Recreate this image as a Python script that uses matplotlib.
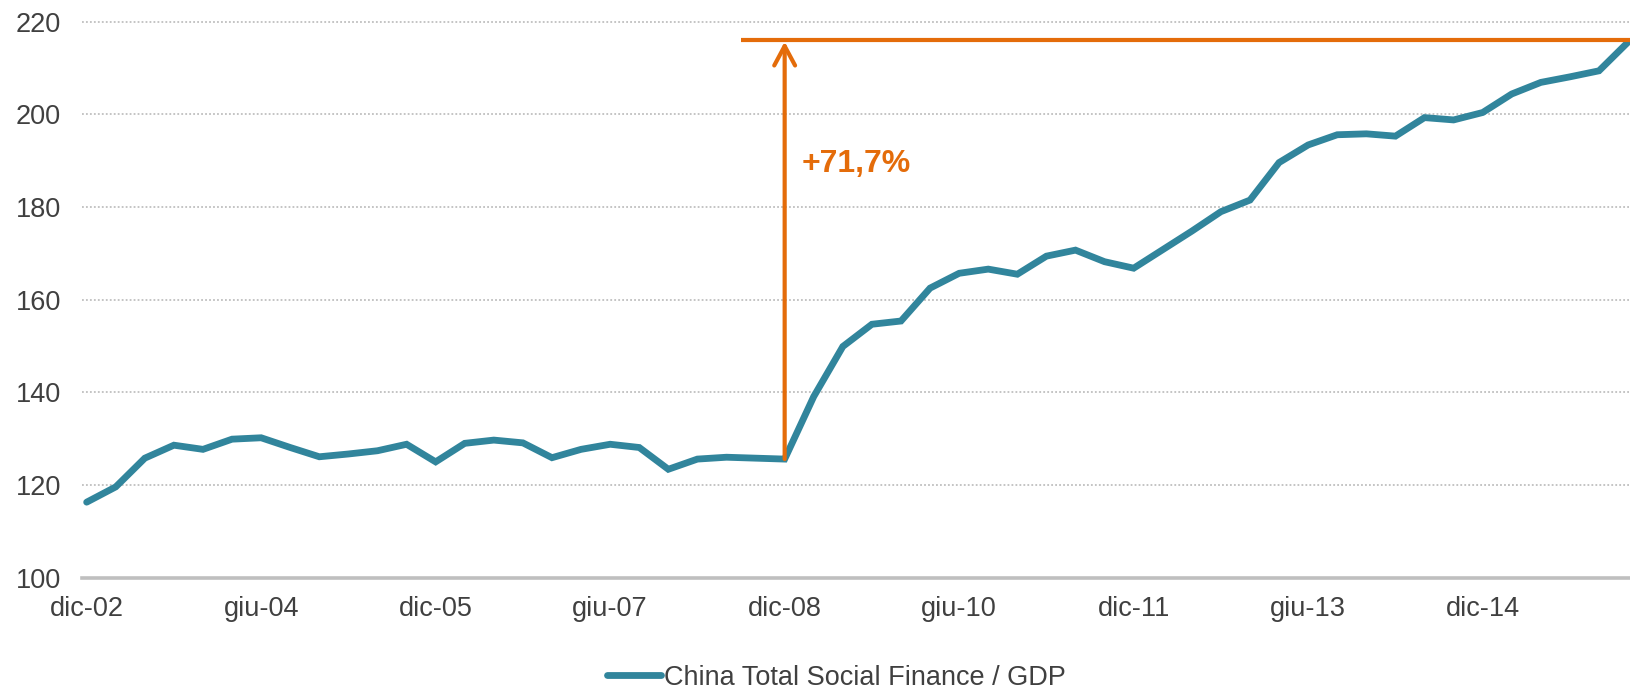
import matplotlib
matplotlib.use("Agg")
import matplotlib.pyplot as plt

plt.rcParams['font.family'] = ['Liberation Sans', 'DejaVu Sans']

# Quarterly data, dic-02 .. mar-16
values = [116.3, 119.6, 125.8, 128.6, 127.7, 129.9, 130.2, 128.1, 126.1, 126.7,
          127.4, 128.8, 125.0, 129.0, 129.7, 129.1, 125.9, 127.7, 128.8, 128.1,
          123.4, 125.6, 126.0, 125.8, 125.6, 139.1, 149.9, 154.7, 155.4, 162.5,
          165.7, 166.6, 165.5, 169.4, 170.7, 168.2, 166.8, 170.8, 174.8, 179.0,
          181.5, 189.6, 193.4, 195.6, 195.8, 195.3, 199.3, 198.8, 200.4, 204.4,
          206.9, 208.1, 209.4, 215.6]
tick_positions = [0, 6, 12, 18, 24, 30, 36, 42, 48]
tick_labels = ['dic-02', 'giu-04', 'dic-05', 'giu-07', 'dic-08',
               'giu-10', 'dic-11', 'giu-13', 'dic-14']
y_ticks = [100, 120, 140, 160, 180, 200, 220]
series_name = 'China Total Social Finance / GDP'
base_index = 24
peak_level = 216.0
annot_start = 22.5
annot_text = '+71,7%'

TEAL = '#31859C'
ORANGE = '#E46C0A'
TXT = '#404040'
FS = 19.5

W, H = 1631, 688
fig = plt.figure(figsize=(W / 100, H / 100), dpi=100)
ax = fig.add_axes([82 / W, 1 - 577.7 / H, (W - 82) / W, (577.7 - 21.7) / H])

x = list(range(len(values)))
ax.plot(x, values, color=TEAL, lw=4.9, solid_joinstyle='miter', solid_capstyle='round',
        clip_on=False, zorder=3, label=series_name)

ax.set_xlim(-0.16, 53.1)
ax.set_ylim(100, 220)
ax.set_yticks(y_ticks)
ax.set_xticks(tick_positions)
ax.set_xticklabels(tick_labels)
ax.tick_params(axis='both', length=0, labelsize=FS, labelcolor=TXT)
ax.tick_params(axis='y', pad=15)
ax.tick_params(axis='x', pad=13)

for v in y_ticks[1:]:
    ax.axhline(v, color='#BFBFBF', lw=1.3, ls=(0, (1, 1.2)), zorder=1, clip_on=False)
for s in ['left', 'right', 'top']:
    ax.spines[s].set_visible(False)
ax.spines['bottom'].set_color('#BFBFBF')
ax.spines['bottom'].set_linewidth(2.6)

# annotation
ax.plot([annot_start, 53.2], [peak_level, peak_level], color=ORANGE, lw=3.0,
        clip_on=False, zorder=4, solid_capstyle='butt')
ax.annotate('', xy=(base_index, peak_level - 0.3), xytext=(base_index, values[base_index]),
            arrowprops=dict(arrowstyle='->,head_length=1.4,head_width=0.75', color=ORANGE,
                            lw=3.0, shrinkA=0, shrinkB=0), zorder=4)
ax.text(base_index + 0.6, 189.3, annot_text, color=ORANGE, fontsize=23,
        fontweight='bold', va='center', ha='left')

fig.legend(loc='center', bbox_to_anchor=(836 / W, 1 - 677.7 / H), frameon=False,
           fontsize=FS, labelcolor=TXT, handlelength=2.0, handletextpad=0.1)

fig.savefig('out.png', dpi=100, facecolor='white')
